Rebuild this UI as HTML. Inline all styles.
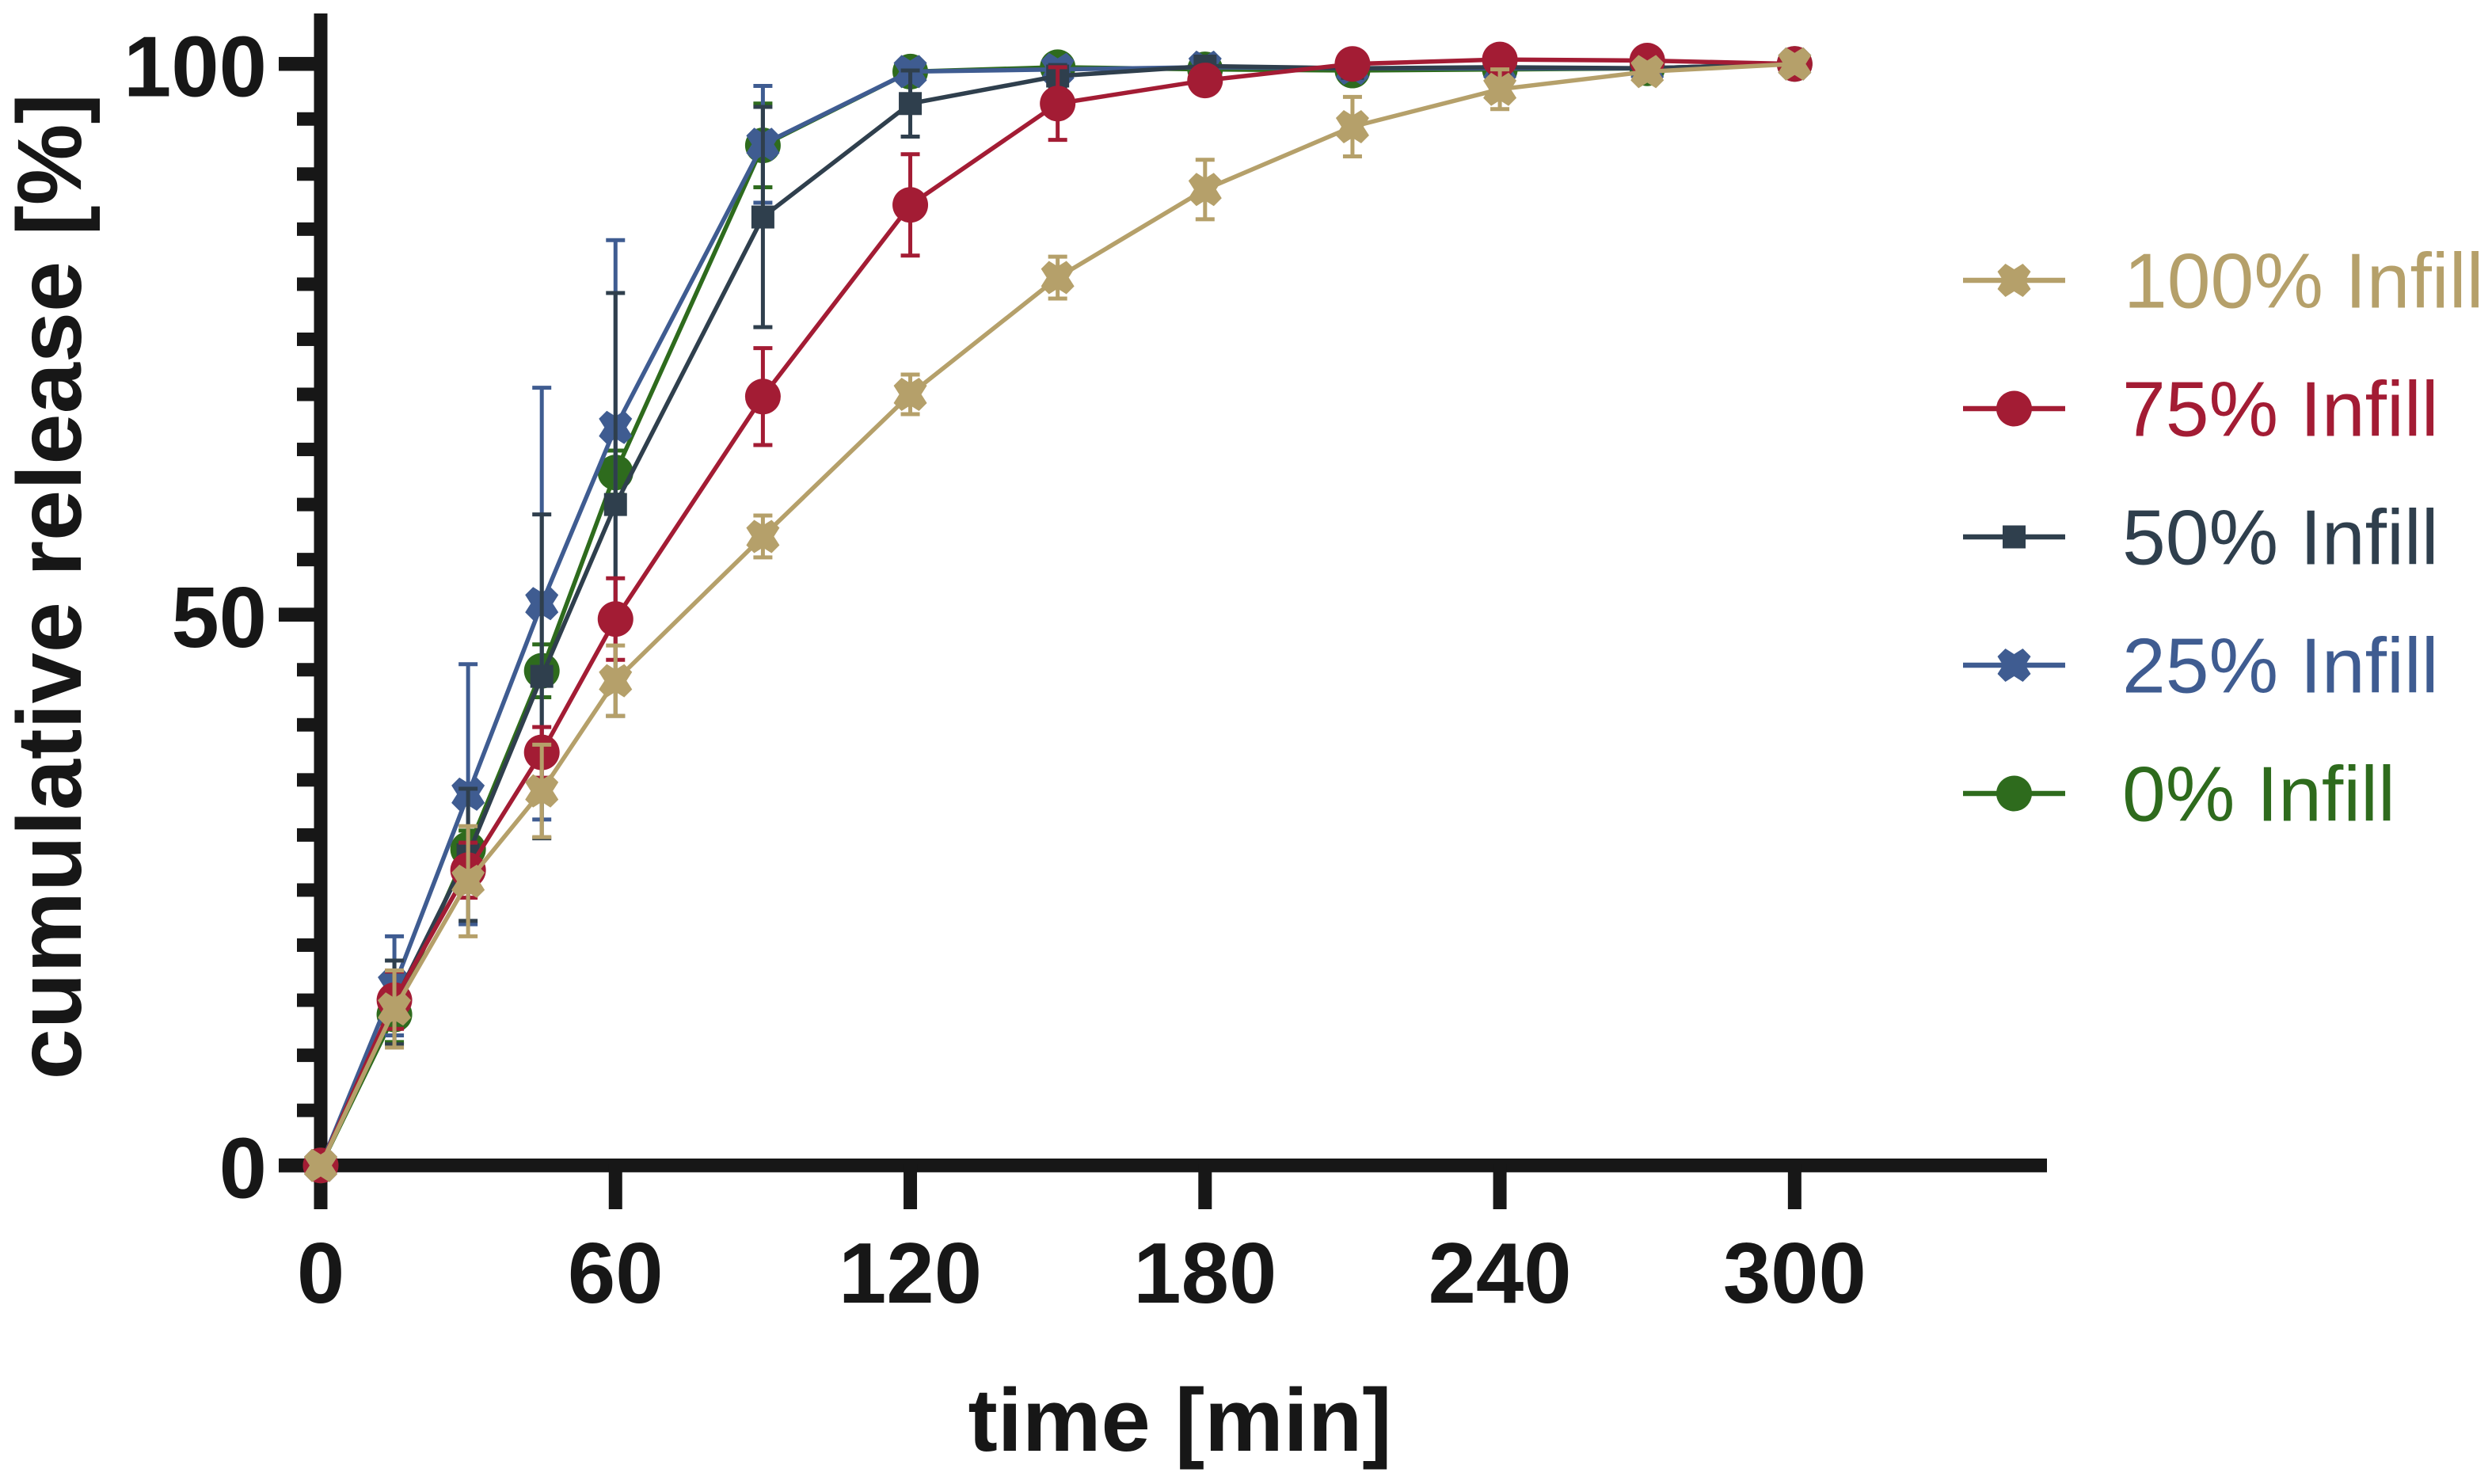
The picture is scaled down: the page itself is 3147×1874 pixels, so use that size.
<!DOCTYPE html>
<html lang="en">
<head>
<meta charset="utf-8">
<title>Cumulative release by infill</title>
<style>
html,body{margin:0;padding:0;background:#fff;}
svg{display:block;}
text{font-family:"Liberation Sans",Arial,sans-serif;}
.tick{font-weight:700;font-size:108.5px;fill:#171717;}
.title{font-weight:700;fill:#171717;}
.leg{font-size:98.5px;}
</style>
</head>
<body>
<svg id="chart" xmlns="http://www.w3.org/2000/svg" width="3147" height="1874" viewBox="0 0 3147 1874">
  <rect x="0" y="0" width="3147" height="1874" fill="#ffffff"/>
  <g id="axes"></g>
  <g id="plot"></g>
  <g id="xlabels"></g>
  <g id="ylabels"></g>
  <text class="title" style="font-size:112px" x="1490" y="1832" text-anchor="middle">time [min]</text>
  <text class="title" style="font-size:115.5px" transform="translate(102,118) rotate(-90)" text-anchor="end">cumulative release [%]</text>
  <g id="legend"></g>
</svg>
<script>
const times = [0, 15, 30, 45, 60, 90, 120, 150, 180, 210, 240, 270, 300];
const xTickValues = [0, 60, 120, 180, 240, 300];
const yTickValues = [0, 50, 100];
const yMinorTickValues = [5, 10, 15, 20, 25, 30, 35, 40, 45, 55, 60, 65, 70, 75, 80, 85, 90, 95];

const infill100Mean = [0, 14.2, 25.8, 34.0, 44.0, 57.1, 70.0, 80.6, 88.6, 94.3, 97.7, 99.3, 100];
const infill100Sd = [0, 3.5, 5.0, 4.2, 3.2, 1.9, 1.8, 1.9, 2.7, 2.7, 1.8, 0.6, 0];
const infill75Mean = [0, 15.0, 26.8, 37.5, 49.6, 69.8, 87.2, 96.4, 98.5, 100.0, 100.4, 100.3, 100];
const infill75Sd = [0, 2.6, 2.5, 2.3, 3.7, 4.4, 4.6, 3.3, 1.0, 0.4, 0.3, 0.3, 0];
const infill50Mean = [0, 14.8, 28.2, 44.4, 60.0, 86.1, 96.4, 98.9, 99.8, 99.6, 99.7, 99.6, 100];
const infill50Sd = [0, 3.8, 6.0, 14.7, 19.2, 10.0, 3.0, 1.0, 0.4, 0.3, 0.3, 0.3, 0];
const infill25Mean = [0, 16.3, 33.7, 51.0, 67.0, 92.7, 99.3, 99.5, 99.7, 99.6, 99.6, 99.6, 100];
const infill25Sd = [0, 4.5, 11.8, 19.6, 17.0, 5.3, 0.5, 0.4, 0.3, 0.3, 0.3, 0.3, 0];
const infill0Mean = [0, 13.7, 28.7, 44.9, 62.9, 92.6, 99.3, 99.7, 99.5, 99.4, 99.5, 99.6, 100];
const infill0Sd = [0, 2.5, 1.7, 2.4, 2.0, 3.8, 0.5, 0.3, 0.3, 0.3, 0.3, 0.3, 0];

const legendLabels = ['100% Infill', '75% Infill', '50% Infill', '25% Infill', '0% Infill'];

const NS = 'http://www.w3.org/2000/svg';
const X0 = 405, XPER = 6.2045, Y0 = 1471.7, YPER = 13.91;
function xScale(v){ return X0 + v * XPER; }
function yScale(v){ return Y0 - v * YPER; }

const INK = '#171717';
const seriesDraw = [
  {key:'infill-0', color:'#2e6b1d', mean:infill0Mean, sd:infill0Sd, shape:'circle'},
  {key:'infill-25', color:'#3f5c91', mean:infill25Mean, sd:infill25Sd, shape:'cross'},
  {key:'infill-50', color:'#2f3f4d', mean:infill50Mean, sd:infill50Sd, shape:'square'},
  {key:'infill-75', color:'#a31c34', mean:infill75Mean, sd:infill75Sd, shape:'circle'},
  {key:'infill-100', color:'#b5a06a', mean:infill100Mean, sd:infill100Sd, shape:'cross'}
];
const legendOrder = [
  {color:'#b5a06a', shape:'cross'},
  {color:'#a31c34', shape:'circle'},
  {color:'#2f3f4d', shape:'square'},
  {color:'#3f5c91', shape:'cross'},
  {color:'#2e6b1d', shape:'circle'}
];

function make(tag, parent, attrs){
  const el = document.createElementNS(NS, tag);
  for (const k in attrs) el.setAttribute(k, attrs[k]);
  parent.appendChild(el);
  return el;
}
function drawMarker(parent, shape, cx, cy, color){
  let el;
  if (shape === 'circle') {
    el = make('circle', parent, {cx:cx, cy:cy, r:22.5, fill:color});
  } else if (shape === 'square') {
    el = make('rect', parent, {x:cx-14.5, y:cy-14.5, width:29, height:29, fill:color});
  } else {
    const p = [[-21,-11],[-11,-21],[0,-14],[11,-21],[21,-11],[14,0],[21,11],[11,21],[0,14],[-11,21],[-21,11],[-14,0]];
    el = make('polygon', parent, {points:p.map(q => (cx+q[0])+','+(cy+q[1])).join(' '), fill:color});
  }
  return el;
}

const axes = document.getElementById('axes');
const yAxisLine = make('rect', axes, {x:396.5, y:17, width:17, height:1510, fill:INK});


const xAxisLine = make('rect', axes, {x:352, y:1463, width:2233, height:17.4, fill:INK});



yMinorTickValues.forEach(function(v){
  const t = make('rect', axes, {x:375, y:yScale(v)-8.5, width:25, height:17, fill:INK});
  
  
});
const ylabels = document.getElementById('ylabels');
yTickValues.forEach(function(v){
  const t = make('rect', axes, {x:352, y:yScale(v)-8.8, width:48, height:17.6, fill:INK});
  
  
  const lab = make('text', ylabels, {x:337, y:yScale(v)+41, 'text-anchor':'end', class:'tick'});
  lab.textContent = String(v);
  
  
});
const xlabels = document.getElementById('xlabels');
xTickValues.forEach(function(v){
  const t = make('rect', axes, {x:xScale(v)-8.5, y:1470, width:17, height:57, fill:INK});
  
  
  const lab = make('text', xlabels, {x:xScale(v), y:1645, 'text-anchor':'middle', class:'tick'});
  lab.textContent = String(v);
  
  
});

const plot = document.getElementById('plot');
seriesDraw.forEach(function(s){
  const g = make('g', plot, {});
  
  
  times.forEach(function(tv, i){
    if (s.sd[i] <= 0) return;
    const x = xScale(tv), hi = yScale(s.mean[i] + s.sd[i]), lo = yScale(s.mean[i] - s.sd[i]);
    const bar = make('path', g, {d:'M'+(x-12)+' '+hi+'H'+(x+12)+'M'+x+' '+hi+'V'+lo+'M'+(x-12)+' '+lo+'H'+(x+12), fill:'none', stroke:s.color, 'stroke-width':5});
    
    
  });
  const pts = times.map(function(tv, i){ return xScale(tv) + ',' + yScale(s.mean[i]); }).join(' ');
  const line = make('polyline', g, {points:pts, fill:'none', stroke:s.color, 'stroke-width':5.5, 'stroke-linejoin':'round'});
  
  
  times.forEach(function(tv, i){
    const m = drawMarker(g, s.shape, xScale(tv), yScale(s.mean[i]), s.color);
    
    
  });
});

const legend = document.getElementById('legend');
legendLabels.forEach(function(label, i){
  const style = legendOrder[i];
  const cy = 354 + i * 162;
  const g = make('g', legend, {});
  
  
  const ln = make('line', g, {x1:2479, x2:2608, y1:cy, y2:cy, stroke:style.color, 'stroke-width':6.5});
  
  
  const mk = drawMarker(g, style.shape, 2543.5, cy, style.color);
  
  
  const tx = make('text', g, {x:(i === 0 ? 2682 : 2680), y:cy + 34.5, class:'leg', fill:style.color});
  tx.textContent = label;
  
  
});
</script>
</body>
</html>
